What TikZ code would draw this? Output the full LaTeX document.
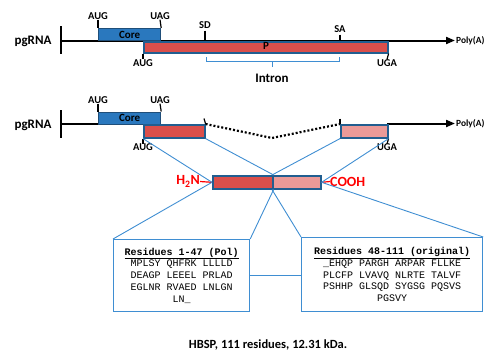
\documentclass[tikz,border=0pt]{standalone}
\usepackage{fontspec}
\setmainfont{Carlito}
\newfontfamily\monofont{Liberation Mono}
\usetikzlibrary{arrows.meta}

\definecolor{corefill}{HTML}{2A78BE}
\definecolor{coreedge}{HTML}{1F4E79}
\definecolor{exonred}{HTML}{DA4F4B}
\definecolor{exonpink}{HTML}{EB9A98}
\definecolor{boxedge}{HTML}{215E90}
\definecolor{linkblue}{HTML}{3F8ED2}

\tikzset{
  rnaline/.style={line width=2pt, black},
  rnaend/.style={line width=2.8pt, black},
  arrowline/.style={line width=2pt, black, -{Triangle[length=9pt,width=7pt]}},
  tickline/.style={line width=1.2pt, black},
  corebox/.style={draw=coreedge, fill=corefill, line width=1.2pt, inner sep=0pt,
    anchor=north west, font=\bfseries\fontsize{11}{11}\selectfont},
  redbox/.style={draw=boxedge, fill=exonred, line width=1.6pt, inner sep=0pt, anchor=north west},
  pinkbox/.style={draw=boxedge, fill=exonpink, line width=1.6pt, inner sep=0pt, anchor=north west},
  lbl/.style={font=\bfseries\fontsize{10.5}{11}\selectfont, inner sep=0pt},
  taillbl/.style={font=\bfseries\fontsize{9.4}{10}\selectfont, inner sep=0pt, anchor=west},
  biglbl/.style={font=\bfseries\fontsize{13}{13}\selectfont, inner sep=0pt},
  termlbl/.style={font=\bfseries\fontsize{14}{14}\selectfont, text=red, inner sep=0pt},
  link/.style={draw=linkblue, line width=0.9pt},
  seqbox/.style={draw=linkblue, line width=1.2pt, fill=white, anchor=north west,
    align=center, inner sep=0pt, font=\monofont\fontsize{10}{11.8}\selectfont},
}

\begin{document}
\begin{tikzpicture}[x=1pt,y=-1pt]
\useasboundingbox (0,0) rectangle (486,356);

% ---------- upper transcript ----------
\node[biglbl] (pg1) at (33,41) {pgRNA};
\coordinate (e1t) at (61,26);
\coordinate (e1b) at (61,54);
\coordinate (s1) at (61,40.5);
\coordinate (t1) at (455,40.5);
\draw[rnaend] (e1t) -- (e1b);
\draw[arrowline] (s1) -- (t1);
\node[taillbl] (pa1) at (456,40.5) {Poly(A)};

\node[corebox, minimum width=62pt, minimum height=12pt] (core1) at (98,28) {Core};
\node[redbox, minimum width=244pt, minimum height=11pt] (p1) at (143,41) {};
\node[font=\bfseries\fontsize{11}{11}\selectfont, inner sep=0pt] (plbl) at (266,45.5) {P};

\node[lbl] (aug1) at (98,16) {AUG};
\node[lbl] (uag1) at (160,16) {UAG};
\node[lbl] (sd1) at (205,25) {SD};
\node[lbl] (sa1) at (340,29) {SA};
\node[lbl] (aug1b) at (143,63) {AUG};
\node[lbl] (uga1) at (387,63) {UGA};
\draw[tickline] (aug1.south) -- (core1.north west);
\draw[tickline] (uag1.south) -- (core1.north east);
\draw[tickline] (sd1.south) ++(0,2) -- (205,41);
\draw[tickline] (sa1.south) ++(0,2) -- (340,41);
\draw[tickline] (p1.south west) -- (aug1b.north);
\draw[tickline] (p1.south east) -- (uga1.north);

% intron bracket
\coordinate (ib1) at (206,57);
\coordinate (ib2) at (339,57);
\coordinate (ibm) at (272,61);
\coordinate (ibt) at (272,67);
\draw[link] (ib1) -- (206,61) -- (339,61) -- (ib2);
\draw[link] (ibm) -- (ibt);
\node[biglbl] (intron) at (272,78) {Intron};

% ---------- lower transcript ----------
\node[biglbl] (pg2) at (33,125) {pgRNA};
\coordinate (e2t) at (61,110);
\coordinate (e2b) at (61,138);
\coordinate (s2) at (61,123.5);
\coordinate (m2) at (143,123.5);
\coordinate (u2) at (387,123.5);
\coordinate (t2) at (455,123.5);
\draw[rnaend] (e2t) -- (e2b);
\draw[rnaline] (s2) -- (m2);
\draw[arrowline] (u2) -- (t2);
\node[taillbl] (pa2) at (456,123.5) {Poly(A)};

\node[corebox, minimum width=62pt, minimum height=12pt] (core2) at (98,111.5) {Core};
\node[redbox, minimum width=61pt, minimum height=13pt] (red2) at (143,124) {};
\node[pinkbox, minimum width=47pt, minimum height=13pt] (pink2) at (340,124) {};

\node[lbl] (aug2) at (98,100) {AUG};
\node[lbl] (uag2) at (160,100) {UAG};
\node[lbl] (aug2b) at (143,147.5) {AUG};
\node[lbl] (uga2) at (387,147.5) {UGA};
\draw[tickline] (aug2.south) -- (core2.north west);
\draw[tickline] (uag2.south) -- (core2.north east);
\draw[tickline] (red2.south west) -- (aug2b.north);
\draw[tickline] (pink2.south east) -- (uga2.north);
\coordinate (sd2) at (204,118.5);
\coordinate (sa2) at (340,118.5);
\draw[tickline] (sd2) -- (red2.north east);
\draw[tickline] (sa2) -- (pink2.north west);

% spliced-out intron
\coordinate (dip) at (272,138);
\draw[line width=2.2pt, dash pattern=on 2pt off 2pt] (red2.north east) -- (dip) -- (pink2.north west);

% ---------- protein ----------
\node[redbox, minimum width=60pt, minimum height=13pt] (red3) at (212,175) {};
\node[pinkbox, minimum width=48pt, minimum height=13pt] (pink3) at (272,175) {};
\node[termlbl, anchor=east] (nterm) at (200,181.5) {H\textsubscript{2}N};
\node[termlbl, anchor=west] (cterm) at (330,181.5) {COOH};
\draw[red, line width=1.2pt] (nterm.east) -- (red3.west);
\draw[red, line width=1.2pt] (pink3.east) -- (cterm.west);

% ---------- residue boxes ----------
\node[seqbox, minimum width=136pt, minimum height=72pt] (polbox) at (113,239)
  {\textbf{\underline{Residues 1-47 (Pol)}}\\
   MPLSY QHFRK LLLLD\\
   DEAGP LEEEL PRLAD\\
   EGLNR RVAED LNLGN\\
   LN\_};
\node[seqbox, minimum width=181pt, minimum height=74pt] (origbox) at (301,237)
  {\textbf{\underline{Residues 48-111 (original)}}\\
   \_EHQP PARGH ARPAR FLLKE\\
   PLCFP LVAVQ NLRTE TALVF\\
   PSHHP GLSQD SYGSG PQSVS\\
   PGSVY};

% ---------- connectors ----------
\draw[link] (red2.south west) -- (red3.west);
\draw[link] (red2.south east) -- (red3.north east);
\draw[link] (pink2.south west) -- (pink3.north west);
\draw[link] (pink2.south east) -- (pink3.east);
\draw[link] (red3.west) -- (polbox.north west);
\draw[link] (red3.south east) -- (polbox.north east);
\draw[link] (pink3.south west) -- (origbox.north west);
\draw[link] (pink3.east) -- (origbox.north east);
\draw[link] (polbox.east) -- (origbox.west |- polbox.east);

% caption
\node[font=\bfseries\fontsize{12.5}{12.5}\selectfont, inner sep=0pt] (cap) at (268,345)
  {HBSP, 111 residues, 12.31 kDa.};
\end{tikzpicture}
\end{document}
